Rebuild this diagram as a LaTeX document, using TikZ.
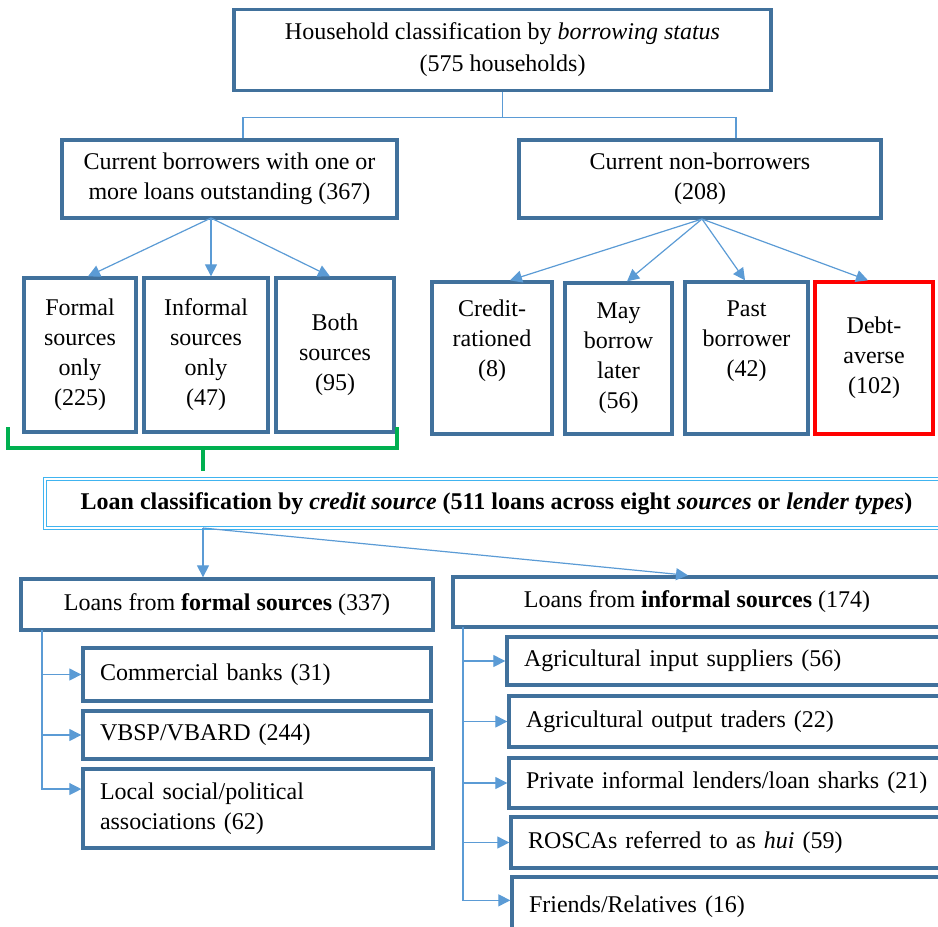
\documentclass[tikz,border=0pt]{standalone}
\usepackage{fontspec}
\setmainfont{Liberation Serif}
\usepackage{xcolor}
\usetikzlibrary{arrows.meta,positioning}

\definecolor{boxblue}{HTML}{41719C}
\definecolor{linkblue}{HTML}{5B9BD5}
\definecolor{loanblue}{HTML}{40B4F0}
\definecolor{bracketgreen}{HTML}{00B050}

\begin{document}
\begin{tikzpicture}[x=0.75pt,y=-0.75pt,
  >={Triangle[length=9pt,width=9pt]},
  font=\fontsize{18}{22.5}\selectfont,
  hbox/.style={draw=boxblue,line width=2.5pt,inner sep=0pt,align=center},
  lbox/.style={draw=boxblue,line width=2.5pt,inner ysep=0pt,inner xsep=12.75pt,align=left},
  link/.style={draw=linkblue,line width=0.9pt}]
\useasboundingbox (0,0) rectangle (938,926);

\node[hbox,minimum width=402.75pt,minimum height=60.75pt] (top) at (502.5,50)
  {Household classification by \textit{borrowing status}\\[1.5pt](575 households)};
\node[hbox,minimum width=251.25pt,minimum height=58.5pt] (borrowers) at (229.5,179)
  {Current borrowers with one or\\more loans outstanding (367)};
\node[hbox,minimum width=271.5pt,minimum height=58.5pt] (nonborrowers) at (700,179)
  {Current non-borrowers\\(208)};

\node[hbox,minimum width=84pt,minimum height=115.5pt] (formal) at (80,355)
  {Formal\\sources\\only\\(225)};
\node[hbox,minimum width=93pt,minimum height=115.5pt] (informal) at (206,355)
  {Informal\\sources\\only\\(47)};
\node[hbox,minimum width=88.5pt,minimum height=115.5pt] (both) at (335,355)
  {Both\\sources\\(95)};

\node[hbox,minimum width=90pt,minimum height=114pt] (credit) at (492,358)
  {Credit-\\rationed\\(8)\\\strut};
\node[hbox,minimum width=80.25pt,minimum height=113.25pt] (later) at (618.5,358.5)
  {May\\borrow\\later\\(56)};
\node[hbox,minimum width=92.25pt,minimum height=114pt] (past) at (746.5,358)
  {Past\\borrower\\(42)\\\strut};
\node[hbox,draw=red,minimum width=88.5pt,minimum height=114pt] (averse) at (874,358)
  {Debt-\\averse\\(102)};

\node[hbox,draw=loanblue,double=white,line width=1pt,double distance=1.4pt,
  minimum width=677.25pt,minimum height=36.75pt] (loans) at (496.5,503.5)
  {\textbf{Loan classification by \textit{credit source} (511 loans across eight \textit{sources} or \textit{lender types})}};

\node[hbox,minimum width=309pt,minimum height=38.25pt] (formalL) at (227,604.5)
  {Loans from \textbf{formal sources} (337)};
\node[lbox,text width=235.5pt,minimum height=39.75pt] (banks) at (257,674.5)
  {Commercial banks (31)};
\node[lbox,text width=235.5pt,minimum height=36pt] (vbsp) at (257,735)
  {VBSP/VBARD (244)};
\node[lbox,text width=237pt,minimum height=59.25pt] (assoc) at (258,808.5)
  {Local social/political\\associations (62)};

\node[hbox,minimum width=366pt,minimum height=37.5pt] (informalL) at (697,602)
  {Loans from \textbf{informal sources} (174)};
\node[lbox,text width=306.75pt,minimum height=36pt] (input) at (728.5,661)
  {Agricultural input suppliers (56)};
\node[lbox,text width=305.25pt,minimum height=38.25pt] (output) at (729.5,721.5)
  {Agricultural output traders (22)};
\node[lbox,text width=305.25pt,minimum height=37.5pt] (sharks) at (729.5,783)
  {Private informal lenders/loan sharks (21)};
\node[lbox,text width=303.75pt,minimum height=38.25pt] (roscas) at (730.5,842.5)
  {ROSCAs referred to as \textit{hui} (59)};
\node[lbox,text width=303pt,minimum height=45pt] (friends) at (731,907)
  {Friends/Relatives (16)};

\draw[link] (top.south) -- ++(0,25) coordinate (tsplit);
\draw[link] (tsplit) -| ([xshift=10.1pt]borrowers.north);
\draw[link] (tsplit) -| ([xshift=27pt]nonborrowers.north);

\coordinate (bsplit) at (211,218);
\draw[link,->] (bsplit) -- ([xshift=6pt]formal.north);
\draw[link,->] (bsplit) -- ([xshift=3.75pt]informal.north);
\draw[link,->] (bsplit) -- ([xshift=-3.75pt]both.north);

\coordinate (nsplit) at (702,219);
\draw[link,->] (nsplit) -- ([xshift=13.5pt]credit.north);
\draw[link,->] (nsplit) -- ([xshift=6.4pt]later.north);
\draw[link,->] (nsplit) -- ([xshift=-1.1pt]past.north);
\draw[link,->] (nsplit) -- ([xshift=-4.5pt]averse.north);

\draw[bracketgreen,line width=2.8pt] (8,427) |- (397,448) -- (397,427);
\draw[bracketgreen,line width=2.8pt] (203,448) -- (203,471);

\coordinate (lsplit) at (203,528);
\draw[link,->] (lsplit) -- (lsplit |- formalL.north);
\draw[link,->] (lsplit) -- ([xshift=-6.75pt]informalL.north);

\coordinate (ftrunk) at (42,630);
\draw[link,->] (ftrunk) |- (banks.west);
\draw[link,->] (ftrunk) |- (vbsp.west);
\draw[link,->] (ftrunk) |- ([yshift=14.6pt]assoc.west);

\coordinate (itrunk) at (463,627);
\draw[link,->] (itrunk) |- (input.west);
\draw[link,->] (itrunk) |- (output.west);
\draw[link,->] (itrunk) |- (sharks.west);
\draw[link,->] (itrunk) |- (roscas.west);
\draw[link,->] (itrunk) |- ([yshift=5pt]friends.west);
\end{tikzpicture}
\end{document}
